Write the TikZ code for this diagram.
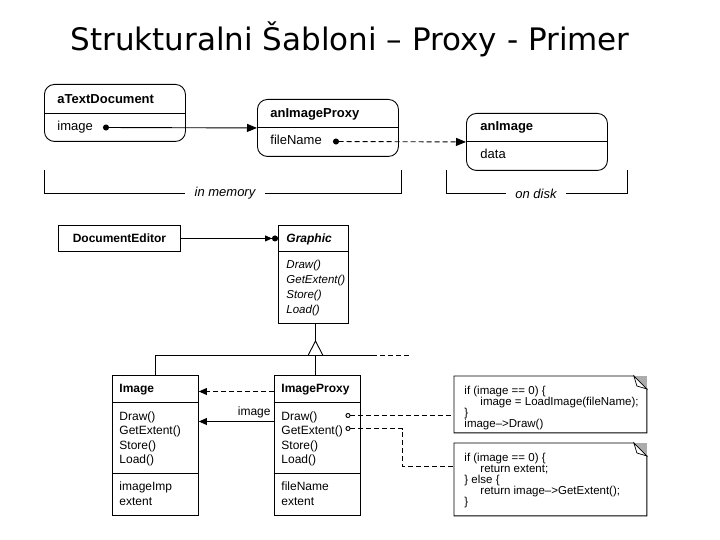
\documentclass[tikz,border=0pt]{standalone}
\usepackage{fontspec}
\setmainfont{Liberation Sans}
\newfontfamily\titlefont{DejaVu Sans}
\usetikzlibrary{arrows.meta}
\begin{document}
\begin{tikzpicture}[x=1pt,y=-1pt,line width=0.9pt,
  objbox/.style={draw, rounded corners=10pt, anchor=north west, inner sep=0pt},
  clsbox/.style={draw, anchor=north west, inner sep=0pt},
  otxt/.style={anchor=base west, inner sep=0pt, font=\fontsize{13}{15}\selectfont},
  otitle/.style={anchor=base west, inner sep=0pt, font=\bfseries\fontsize{13}{15}\selectfont},
  ctxt/.style={anchor=base west, inner sep=0pt, font=\fontsize{12}{14}\selectfont},
  cital/.style={anchor=base west, inner sep=0pt, font=\itshape\fontsize{11.5}{14}\selectfont},
  ctitle/.style={anchor=base west, inner sep=0pt, font=\bfseries\fontsize{12}{14}\selectfont},
  codetxt/.style={anchor=base west, inner sep=0pt, font=\fontsize{11.5}{12}\selectfont},
  brklbl/.style={inner ysep=0pt, inner xsep=9pt, font=\itshape\fontsize{13}{15}\selectfont},
  dsh/.style={dash pattern=on 5pt off 3pt},
  smalltip/.style={-{Triangle[length=8pt,width=7pt]}},
  notebox/.style={anchor=north west, inner sep=0pt, minimum width=192pt}
]
\useasboundingbox (0,0) rectangle (720,540);

% title
\node[anchor=base west, inner sep=0pt, font=\titlefont\fontsize{31}{31}\selectfont] (title) at (70,51) {Strukturalni Šabloni – Proxy - Primer};

% ---------- object diagram ----------
\node[objbox, minimum width=141pt, minimum height=57pt] (atd) at (44,84) {};
\node[objbox, minimum width=141pt, minimum height=57pt] (aip) at (257,99) {};
\node[objbox, minimum width=141pt, minimum height=57pt] (ai) at (466,113) {};
\draw (atd.west |- 0,113.5) -- (atd.east |- 0,113.5);
\draw (aip.west) -- (aip.east);
\draw (ai.west) -- (ai.east);

\node[otitle] (atdname) at (57,104) {aTextDocument};
\node[otxt] (atdimage) at (57,131) {image};
\node[otitle] (aipname) at (270,118) {anImageProxy};
\node[otxt] (aipfile) at (270,145) {fileName};
\node[otitle] (ainame) at (480,131) {anImage};
\node[otxt] (aidata) at (480,159) {data};

\coordinate (atddot) at (103,127.5);
\coordinate (aipdot) at (333,141.5);
\draw[{Circle[length=6pt]}-{Triangle[length=10pt,width=8pt]}] (atddot) -- (aip.west);
\draw[dsh, {Circle[length=6pt]}-{Triangle[length=10pt,width=8pt]}] (aipdot) -- (ai.west);

% brackets
\node[brklbl] (inmem) at (225,193.5) {in memory};
\draw (44.5,170) -- (44.5,193.5) -- (inmem.west);
\draw (inmem.east) -- (401.5,193.5) -- (401.5,170);
\node[brklbl] (ondisk) at (536,193.5) {on disk};
\draw (446.5,170) -- (446.5,193.5) -- (ondisk.west);
\draw (ondisk.east) -- (627.5,193.5) -- (627.5,170);

% ---------- class diagram ----------
\node[clsbox, minimum width=122pt, minimum height=26pt] (de) at (58,225) {};
\node[inner sep=0pt, font=\bfseries\fontsize{12}{14}\selectfont] (dename) at (de.center) {DocumentEditor};

\node[clsbox, minimum width=70pt, minimum height=98pt] (gr) at (278,225) {};
\draw (gr.west |- 0,251.5) -- (gr.east |- 0,251.5);
\node[anchor=base west, inner sep=0pt, font=\bfseries\itshape\fontsize{12}{14}\selectfont] (grname) at (286,242) {Graphic};
\node[cital] (gr1) at (286,268) {Draw()};
\node[cital] (gr2) at (286,283) {GetExtent()};
\node[cital] (gr3) at (286,298) {Store()};
\node[cital] (gr4) at (286,313) {Load()};

\draw[-{Triangle[length=7pt,width=6pt] Circle[length=6pt]}] (de.east) -- (de.east -| gr.west);

% Image
\node[clsbox, minimum width=86pt, minimum height=140pt] (im) at (112,375) {};
\draw (im.west |- 0,402.5) -- (im.east |- 0,402.5);
\draw (im.west |- 0,473.5) -- (im.east |- 0,473.5);
\node[ctitle] (imname) at (119,392) {Image};
\node[ctxt] (im1) at (119,420) {Draw()};
\node[ctxt] (im2) at (119,434.5) {GetExtent()};
\node[ctxt] (im3) at (119,449) {Store()};
\node[ctxt] (im4) at (119,463.5) {Load()};
\node[ctxt] (im5) at (119,490) {imageImp};
\node[ctxt] (im6) at (119,505) {extent};

% ImageProxy
\node[clsbox, minimum width=86pt, minimum height=140pt] (ip) at (274,375) {};
\draw (ip.west |- 0,402.5) -- (ip.east |- 0,402.5);
\draw (ip.west |- 0,473.5) -- (ip.east |- 0,473.5);
\node[ctitle] (ipname) at (281,392) {ImageProxy};
\node[ctxt] (ip1) at (281,420) {Draw()};
\node[ctxt] (ip2) at (281,434.5) {GetExtent()};
\node[ctxt] (ip3) at (281,449) {Store()};
\node[ctxt] (ip4) at (281,463.5) {Load()};
\node[ctxt] (ip5) at (281,490) {fileName};
\node[ctxt] (ip6) at (281,505) {extent};

% inheritance
\coordinate (apex) at (315.5,341);
\coordinate (bar) at (0,355.5);
\draw (apex |- gr.south) -- (apex);
\draw (apex) -- (308,355.5) -- (323,355.5) -- cycle;
\draw (im.north) -- (im.north |- bar) -- (372,355.5);
\draw[dsh] (372,355.5) -- (410,355.5);
\draw (apex |- bar) -- (apex |- ip.north);

% Image <- ImageProxy
\coordinate (lv1) at (0,391.5);
\coordinate (lv2) at (0,421.5);
\draw[dsh, smalltip] (ip.west |- lv1) -- (im.east |- lv1);
\draw[smalltip] (ip.west |- lv2) -- (im.east |- lv2);
\node[anchor=base east, inner sep=0pt, font=\fontsize{12}{14}\selectfont] (imglbl) at (271,415) {image};

% notes
\node[notebox, minimum height=56pt] (note1) at (454,376) {};
\node[notebox, minimum height=72pt] (note2) at (454,443) {};
\foreach \n in {note1,note2}{
  \draw (\n.north west) -- ([xshift=-13pt]\n.north east) -- ([yshift=-13pt]\n.north east) -- (\n.south east) -- (\n.south west) -- cycle;
  \fill[gray!65] ([xshift=-13pt]\n.north east) -- (\n.north east) -- ([yshift=-13pt]\n.north east) -- cycle;
  \draw[fill=white, line width=0.7pt] ([xshift=-13pt]\n.north east) -- ([xshift=-10pt,yshift=-10pt]\n.north east) -- ([yshift=-13pt]\n.north east) -- cycle;
}
\node[codetxt] (c11) at (464,394) {if (image == 0) \{};
\node[codetxt] (c12) at (480,405) {image = LoadImage(fileName);};
\node[codetxt] (c13) at (464,416) {\}};
\node[codetxt] (c14) at (464,427) {image–>Draw()};
\node[codetxt] (c21) at (464,461) {if (image == 0) \{};
\node[codetxt] (c22) at (480,472) {return extent;};
\node[codetxt] (c23) at (464,483) {\} else \{};
\node[codetxt] (c24) at (480,494) {return image–>GetExtent();};
\node[codetxt] (c25) at (464,505) {\}};

% ImageProxy methods -> notes
\coordinate (drc) at (345.5,415.5);
\coordinate (gec) at (345.5,428.5);
\coordinate (bend) at (402.5,0);
\coordinate (lv3) at (0,466.5);
\draw[dsh, {Circle[open,length=5pt]}-] (drc) -- (note1.west |- drc);
\draw[dsh, {Circle[open,length=5pt]}-] (gec) -- (bend |- gec) -- (bend |- lv3) -- (note2.west |- lv3);
\end{tikzpicture}
\end{document}
